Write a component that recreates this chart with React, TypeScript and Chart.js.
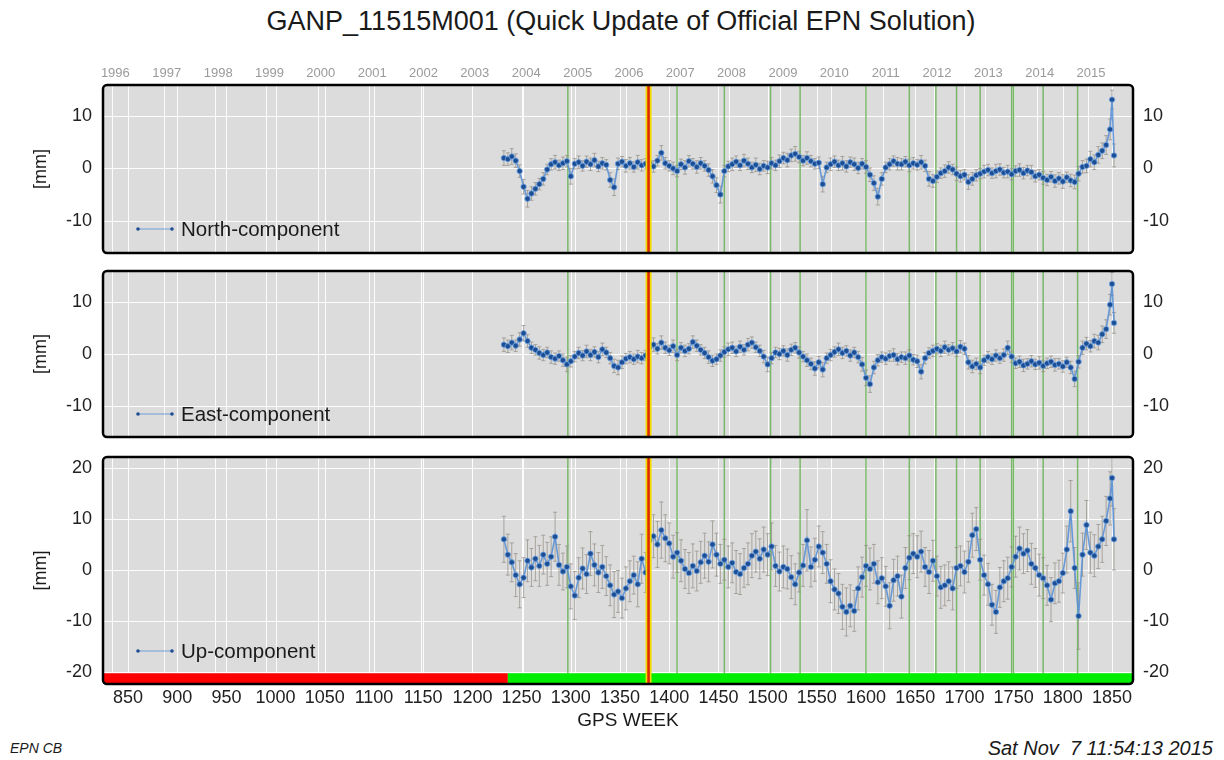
import React, { useEffect, useRef } from "react";
import { Chart, registerables } from "chart.js";
Chart.register(...registerables);

const FONT = '"Liberation Sans", Arial, Helvetica, sans-serif';

// ---- GPS weeks of the (sub-sampled) weekly solutions ----
const weeks = [
  1232, 1236, 1240, 1244, 1248, 1252, 1256, 1260, 1264, 1268,
  1272, 1276, 1280, 1284, 1288, 1292, 1296, 1300, 1304, 1308,
  1312, 1316, 1320, 1324, 1328, 1332, 1336, 1340, 1344, 1348,
  1352, 1356, 1360, 1364, 1368, 1372, 1376, 1380, 1384, 1388,
  1392, 1396, 1400, 1404, 1408, 1412, 1416, 1420, 1424, 1428,
  1432, 1436, 1440, 1444, 1448, 1452, 1456, 1460, 1464, 1468,
  1472, 1476, 1480, 1484, 1488, 1492, 1496, 1500, 1504, 1508,
  1512, 1516, 1520, 1524, 1528, 1532, 1536, 1540, 1544, 1548,
  1552, 1556, 1560, 1564, 1568, 1572, 1576, 1580, 1584, 1588,
  1592, 1596, 1600, 1604, 1608, 1612, 1616, 1620, 1624, 1628,
  1632, 1636, 1640, 1644, 1648, 1652, 1656, 1660, 1664, 1668,
  1672, 1676, 1680, 1684, 1688, 1692, 1696, 1700, 1704, 1708,
  1712, 1716, 1720, 1724, 1728, 1732, 1736, 1740, 1744, 1748,
  1752, 1756, 1760, 1764, 1768, 1772, 1776, 1780, 1784, 1788,
  1792, 1796, 1800, 1804, 1808, 1812, 1816, 1820, 1824, 1828,
  1832, 1836, 1840, 1844, 1848, 1850, 1852,
];

// ---- North component [mm] ----
const northValues = [
  2.0, 1.8, 2.3, 1.5, -0.5, -3.5, -5.8, -4.8, -3.9, -3.0,
  -2.0, -0.2, 0.8, 1.2, 0.6, 1.0, 1.4, -1.5, 0.9, 1.2,
  0.5, 1.3, 0.8, 1.6, 0.4, 1.0, 0.7, -2.2, -3.6, 0.9,
  1.3, 0.5, 1.0, 0.3, 1.2, 0.6, 0.9, 1.1, 0.4, 1.5,
  3.0, 1.0, 0.5, 0.0, -0.5, 0.8, 0.2, 1.4, 0.9, 0.3,
  1.0, 0.5, -0.3, -1.5, -3.2, -5.0, -0.5, 0.4, 0.8, 1.3,
  0.6, 1.5, 0.9, 0.2, 0.7, -0.1, 0.5, 0.2, 1.0, 0.6,
  1.4, 2.0, 1.6, 2.5, 2.8, 2.2, 1.5, 2.0, 1.4, 0.9,
  1.1, -3.0, 0.2, 0.8, 1.3, 0.6, 1.0, 0.4, 1.2, 0.8,
  0.1, 0.9, 0.3, -1.2, -2.8, -5.4, -2.0, 0.2, 0.8, 1.4,
  0.9, 0.8, 1.3, 0.6, 1.0, 0.7, 1.2, 0.5, -2.0, -2.4,
  -1.6, -0.9, -0.5, 0.2, -0.2, -1.0, -1.5, -1.2, -2.6, -2.0,
  -1.3, -1.0, -0.6, -0.3, -0.9, -0.5, -0.2, -0.8, -0.6, -1.1,
  -0.5, -0.3, -0.9, -0.4, -0.7, -1.5, -1.2, -1.8, -2.2, -1.6,
  -2.4, -1.9, -2.5, -1.7, -2.3, -2.6, -1.0, 0.3, 0.5, 1.8,
  1.2, 2.6, 3.4, 4.5, 7.5, 13.2, 2.5,
];
const northSigma = [
  1.4, 1.2, 1.5, 1.3, 1.2, 1.4, 1.6, 1.3, 1.2, 1.1,
  1.2, 1.0, 1.1, 1.3, 1.0, 1.2, 1.1, 1.5, 1.0, 1.2,
  1.0, 1.1, 1.2, 1.3, 1.0, 1.1, 1.0, 1.4, 1.6, 1.1,
  1.0, 1.2, 1.1, 1.0, 1.3, 1.1, 1.0, 1.2, 1.1, 1.0,
  1.4, 1.1, 1.0, 1.2, 1.1, 1.0, 1.3, 1.1, 1.0, 1.2,
  1.1, 1.0, 1.2, 1.3, 1.4, 1.6, 1.1, 1.0, 1.2, 1.1,
  1.0, 1.2, 1.1, 1.0, 1.3, 1.1, 1.0, 1.2, 1.1, 1.0,
  1.2, 1.1, 1.3, 1.2, 1.4, 1.1, 1.0, 1.2, 1.1, 1.0,
  1.1, 1.5, 1.0, 1.2, 1.1, 1.0, 1.3, 1.1, 1.0, 1.2,
  1.1, 1.0, 1.2, 1.3, 1.4, 1.6, 1.2, 1.0, 1.1, 1.0,
  1.2, 1.1, 1.0, 1.2, 1.1, 1.0, 1.3, 1.1, 1.4, 1.2,
  1.1, 1.0, 1.2, 1.1, 1.0, 1.3, 1.1, 1.0, 1.4, 1.2,
  1.1, 1.0, 1.2, 1.1, 1.0, 1.3, 1.1, 1.0, 1.2, 1.1,
  1.0, 1.2, 1.1, 1.0, 1.3, 1.1, 1.0, 1.2, 1.1, 1.0,
  1.2, 1.1, 1.3, 1.0, 1.2, 1.3, 1.4, 1.2, 1.3, 1.5,
  1.4, 1.6, 1.5, 1.8, 2.0, 1.8, 2.2,
];

// ---- East component [mm] ----
const eastValues = [
  1.8, 1.5, 2.2, 1.6, 2.8, 4.0, 2.5, 1.2, 0.8, 0.2,
  -0.2, 0.3, -0.6, -0.9, -0.4, -1.2, -2.0, -1.4, -0.5, 0.2,
  -0.3, 0.5, -0.2, 0.4, -0.6, 0.9, 0.3, -0.8, -2.3, -2.6,
  -1.6, -0.9, -0.6, -1.0, -0.5, -0.8, -0.3, 1.3, 1.8, 1.0,
  2.2, 1.2, 0.7, 1.5, -0.2, 1.2, 0.6, 1.0, 2.3, 1.6,
  0.8, 0.2, -0.6, -1.3, -1.0, -0.3, 0.4, 0.9, 1.2, 0.5,
  1.4, 0.8, 1.8, 2.2, 1.3, 0.6, -0.5, -2.0, -0.8, 0.3,
  0.0, 0.6, -0.2, 0.8, 1.2, 0.3, -0.5, -1.2, -1.9, -2.8,
  -1.6, -3.0, -0.8, -0.2, 0.4, 0.9, 0.2, 0.6, -0.3, 0.3,
  -0.6, -2.0, -4.6, -5.8, -2.6, -1.2, -0.6, -0.9, -0.4, -0.2,
  -1.0, -0.6, -0.8, -0.3, -1.1, -1.4, -3.4, -0.8, 0.2, 0.6,
  1.0, 0.6, 1.3, 0.8, 1.1, 0.5, 1.4, 1.0, -1.6, -2.4,
  -1.9, -2.6, -1.2, -0.6, -1.0, -0.3, -0.8, -0.2, 1.2, -0.5,
  -1.8, -1.5, -2.2, -1.9, -1.4, -2.0, -1.7, -2.3, -1.8, -1.5,
  -2.1, -1.9, -2.4, -1.6, -2.6, -4.8, -1.5, 1.2, 2.0, 1.5,
  2.5, 2.2, 3.8, 4.8, 9.5, 13.5, 6.0,
];
const eastSigma = [
  1.3, 1.2, 1.4, 1.1, 1.3, 1.5, 1.2, 1.1, 1.0, 1.2,
  1.1, 1.0, 1.2, 1.1, 1.0, 1.2, 1.4, 1.1, 1.0, 1.1,
  1.0, 1.2, 1.1, 1.0, 1.1, 1.2, 1.0, 1.1, 1.3, 1.4,
  1.2, 1.0, 1.1, 1.0, 1.2, 1.1, 1.0, 1.2, 1.3, 1.0,
  1.3, 1.1, 1.0, 1.2, 1.1, 1.0, 1.1, 1.0, 1.2, 1.1,
  1.0, 1.1, 1.2, 1.1, 1.0, 1.1, 1.0, 1.2, 1.1, 1.0,
  1.1, 1.0, 1.2, 1.1, 1.0, 1.1, 1.2, 1.4, 1.1, 1.0,
  1.1, 1.0, 1.2, 1.1, 1.0, 1.1, 1.0, 1.2, 1.1, 1.3,
  1.1, 1.4, 1.0, 1.1, 1.0, 1.2, 1.1, 1.0, 1.1, 1.0,
  1.1, 1.3, 1.5, 1.6, 1.2, 1.1, 1.0, 1.1, 1.0, 1.2,
  1.1, 1.0, 1.2, 1.1, 1.0, 1.2, 1.4, 1.1, 1.0, 1.1,
  1.0, 1.1, 1.2, 1.0, 1.1, 1.0, 1.2, 1.1, 1.3, 1.2,
  1.1, 1.2, 1.0, 1.1, 1.0, 1.1, 1.0, 1.2, 1.3, 1.1,
  1.0, 1.1, 1.2, 1.0, 1.1, 1.0, 1.2, 1.1, 1.0, 1.1,
  1.2, 1.0, 1.1, 1.0, 1.2, 1.5, 1.2, 1.3, 1.2, 1.1,
  1.3, 1.4, 1.6, 1.8, 2.0, 2.2, 2.0,
];

// ---- Up component [mm] ----
const upValues = [
  6.0, 3.0, 1.5, -1.0, -2.8, -1.5, 1.8, 0.5, 2.2, 0.8,
  3.0, 1.2, 2.6, 6.5, 1.0, -0.3, 0.6, -3.2, -5.0, -1.5,
  0.3, -0.8, 3.2, 1.0, -0.5, 0.6, -1.2, -3.0, -4.8, -4.2,
  -5.5, -3.6, -2.2, -1.0, -2.8, 2.2, -0.5, 5.8, 6.6, 5.0,
  7.8, 6.2, 5.2, 2.6, 3.4, 1.8, 0.2, -0.6, 0.8, -0.2,
  1.5, 2.8, 1.6, 5.0, 3.0, 1.2, 2.0, 0.6, 1.4, -0.4,
  -0.8, 0.4, 1.2, 2.8, 3.6, 2.2, 4.0, 3.0, 4.6, 0.8,
  -0.3, 0.6, 0.2, -1.4, -2.8, -0.5, 0.9, 5.8, 0.6, 2.0,
  4.6, 3.4, 1.2, -2.2, -3.8, -4.6, -7.2, -8.2, -7.0, -8.0,
  -3.6, -1.4, 0.8, 0.2, 1.2, -2.4, -1.6, -3.2, -7.0, -2.0,
  -1.2, -5.2, 0.4, 2.4, 3.2, 2.6, 3.6, 0.6, -0.4, 1.8,
  -1.2, -3.4, -3.0, -2.2, -3.6, 0.4, 0.8, -0.4, 1.6, 6.8,
  8.0, 2.0, -1.0, -2.8, -6.8, -8.2, -3.4, -2.2, -1.6, 0.6,
  2.6, 4.2, 3.2, 3.8, 1.2, 0.4, -1.0, -1.6, -3.0, -5.8,
  -2.6, -2.2, -0.6, 4.0, 11.5, 0.4, -9.0, 3.0, 8.8, 3.4,
  2.8, 4.6, 6.0, 9.6, 14.0, 18.0, 6.0,
];
const upSigma = [
  4.5, 4.0, 3.8, 4.2, 4.6, 3.9, 4.1, 3.7, 4.3, 4.0,
  3.8, 4.2, 3.9, 4.8, 4.0, 3.6, 4.1, 4.4, 4.7, 3.9,
  4.0, 3.8, 4.3, 4.1, 3.9, 4.2, 3.8, 4.0, 4.5, 4.1,
  3.9, 4.2, 4.0, 3.7, 4.4, 4.8, 3.9, 4.0, 4.2, 4.5,
  5.5, 4.6, 4.0, 4.2, 3.9, 4.1, 3.8, 4.0, 4.3, 3.9,
  4.1, 4.4, 3.9, 4.6, 4.2, 3.8, 4.0, 4.1, 3.9, 4.2,
  4.0, 3.8, 4.1, 4.3, 4.0, 3.9, 4.4, 4.1, 4.6, 4.0,
  3.8, 4.1, 3.9, 4.2, 4.0, 3.8, 4.1, 6.0, 3.9, 4.2,
  4.0, 4.1, 3.8, 4.2, 4.0, 3.9, 4.4, 4.7, 4.1, 4.0,
  4.2, 3.9, 4.0, 4.1, 3.8, 4.2, 4.0, 3.9, 4.5, 4.1,
  3.9, 4.2, 4.0, 4.3, 3.9, 4.1, 4.0, 3.8, 4.2, 4.0,
  3.9, 4.1, 4.0, 3.8, 4.2, 4.0, 3.9, 4.1, 4.0, 4.3,
  4.2, 4.0, 3.9, 4.1, 4.0, 4.2, 3.9, 4.0, 4.1, 3.9,
  4.0, 4.2, 3.9, 4.1, 4.0, 3.8, 4.1, 4.0, 3.9, 4.3,
  4.0, 4.1, 3.9, 4.6, 6.0, 4.0, 6.5, 4.2, 4.8, 4.0,
  4.1, 4.3, 4.5, 4.8, 5.2, 5.5, 6.0,
];

// ---- axes / annotations ----
const weekTicks = [850, 900, 950, 1000, 1050, 1100, 1150, 1200, 1250, 1300, 1350, 1400, 1450, 1500, 1550, 1600, 1650, 1700, 1750, 1800, 1850];
const yearLabels = ["1996", "1997", "1998", "1999", "2000", "2001", "2002", "2003", "2004", "2005", "2006", "2007", "2008", "2009", "2010", "2011", "2012", "2013", "2014", "2015"];
const yearStartWeeks = [834.1, 886.4, 938.6, 990.7, 1042.9, 1095.1, 1147.3, 1199.4, 1251.6, 1303.9, 1356.0, 1408.1, 1460.3, 1512.6, 1564.7, 1616.9, 1669.0, 1721.3, 1773.4, 1825.6];
const equipmentChangeWeeks = [1297, 1408, 1456, 1503, 1533, 1600, 1644, 1671, 1692, 1716, 1748, 1750, 1780, 1815];
const referenceFrameChangeWeek = 1379;
const statusChangeWeek = 1236;
const horizTicks = [-10, 0, 10];
const upTicks = [-20, -10, 0, 10, 20];

const X_MIN = 824.6;
const X_MAX = 1871.3;

type Spec = {
  top: number; height: number; padTop: number; padBottom: number;
  values: number[]; sigmas: number[]; yMin: number; yMax: number; yTicks: number[];
  label: string; legendOffset: number; showYears: boolean; showWeeks: boolean; statusBar: boolean;
};

const panels: Spec[] = [
  { top: 60, height: 198, padTop: 25, padBottom: 2, values: northValues, sigmas: northSigma, yMin: -16.2, yMax: 16.0, yTicks: horizTicks, label: "North-component", legendOffset: 24, showYears: true, showWeeks: false, statusBar: false },
  { top: 266, height: 176, padTop: 4, padBottom: 2, values: eastValues, sigmas: eastSigma, yMin: -16.0, yMax: 16.0, yTicks: horizTicks, label: "East-component", legendOffset: 23, showYears: false, showWeeks: false, statusBar: false },
  { top: 452, height: 262, padTop: 4, padBottom: 0, values: upValues, sigmas: upSigma, yMin: -22.3, yMax: 22.1, yTicks: upTicks, label: "Up-component", legendOffset: 33, showYears: false, showWeeks: true, statusBar: true },
];

const zeroPad = (s: any) => { s.paddingTop = 0; s.paddingBottom = 0; s.paddingLeft = 0; s.paddingRight = 0; };

function makePlugin(spec: Spec) {
  return {
    id: "panelDecor",
    beforeDatasetsDraw(chart: any) {
      const { ctx, chartArea: a, scales } = chart;
      const xs = scales.x, ys = scales.y;
      ctx.save();
      ctx.fillStyle = "#dcdcdc";
      ctx.fillRect(a.left, a.top, a.right - a.left, a.bottom - a.top);
      ctx.beginPath();
      ctx.rect(a.left, a.top, a.right - a.left, a.bottom - a.top);
      ctx.clip();
      const vline = (x: number) => { ctx.beginPath(); ctx.moveTo(x, a.top); ctx.lineTo(x, a.bottom); ctx.stroke(); };
      ctx.strokeStyle = "rgba(255,255,255,0.9)";
      ctx.lineWidth = 1;
      weekTicks.forEach((w) => vline(Math.round(xs.getPixelForValue(w)) + 0.5));
      yearStartWeeks.forEach((w) => vline(Math.round(xs.getPixelForValue(w)) + 0.5));
      spec.yTicks.forEach((v) => {
        const y = Math.round(ys.getPixelForValue(v)) + 0.5;
        ctx.beginPath(); ctx.moveTo(a.left, y); ctx.lineTo(a.right, y); ctx.stroke();
      });
      ctx.strokeStyle = "rgba(95,175,75,0.8)";
      ctx.lineWidth = 1.5;
      equipmentChangeWeeks.forEach((w) => vline(xs.getPixelForValue(w)));
      if (spec.statusBar) {
        const yTop = ys.getPixelForValue(-20.2);
        const xc = xs.getPixelForValue(statusChangeWeek);
        ctx.fillStyle = "#ff0000";
        ctx.fillRect(a.left, yTop, xc - a.left, a.bottom - yTop);
        ctx.fillStyle = "#00ee00";
        ctx.fillRect(xc, yTop, a.right - xc, a.bottom - yTop);
      }
      ctx.strokeStyle = "rgba(150,144,136,0.75)";
      ctx.lineWidth = 1;
      weeks.forEach((w, i) => {
        const x = xs.getPixelForValue(w);
        const y1 = ys.getPixelForValue(spec.values[i] - spec.sigmas[i]);
        const y2 = ys.getPixelForValue(spec.values[i] + spec.sigmas[i]);
        ctx.beginPath();
        ctx.moveTo(x, y1); ctx.lineTo(x, y2);
        ctx.moveTo(x - 2, y1); ctx.lineTo(x + 2, y1);
        ctx.moveTo(x - 2, y2); ctx.lineTo(x + 2, y2);
        ctx.stroke();
      });
      ctx.restore();
    },
    afterDatasetsDraw(chart: any) {
      const { ctx, chartArea: a, scales } = chart;
      const xs = scales.x;
      ctx.save();
      const xr = xs.getPixelForValue(referenceFrameChangeWeek);
      ctx.strokeStyle = "#f2dc00";
      ctx.lineWidth = 6;
      ctx.beginPath(); ctx.moveTo(xr, a.top); ctx.lineTo(xr, a.bottom); ctx.stroke();
      ctx.strokeStyle = "#dd2a00";
      ctx.lineWidth = 2.6;
      ctx.beginPath(); ctx.moveTo(xr, a.top); ctx.lineTo(xr, a.bottom); ctx.stroke();
      // legend
      const ly = a.bottom - spec.legendOffset;
      ctx.strokeStyle = "#6a9fd8";
      ctx.lineWidth = 1;
      ctx.beginPath(); ctx.moveTo(138, ly); ctx.lineTo(172, ly); ctx.stroke();
      ctx.fillStyle = "#1d4d92";
      [138, 172].forEach((x) => { ctx.beginPath(); ctx.arc(x, ly, 1.8, 0, Math.PI * 2); ctx.fill(); });
      ctx.fillStyle = "#1a1a1a";
      ctx.font = `20.5px ${FONT}`;
      ctx.textAlign = "left";
      ctx.textBaseline = "middle";
      ctx.fillText(spec.label, 181, ly + 1);
      // frame
      ctx.strokeStyle = "#000";
      ctx.lineWidth = 2.5;
      ctx.beginPath();
      (ctx as any).roundRect(a.left, a.top, a.right - a.left, a.bottom - a.top, 4);
      ctx.stroke();
      // y label
      ctx.save();
      ctx.translate(41, (a.top + a.bottom) / 2);
      ctx.rotate(-Math.PI / 2);
      ctx.fillStyle = "#1a1a1a";
      ctx.font = `18px ${FONT}`;
      ctx.textAlign = "center";
      ctx.textBaseline = "middle";
      ctx.fillText("[mm]", 0, 0);
      ctx.restore();
      if (spec.showYears) {
        ctx.fillStyle = "#9a9a9a";
        ctx.font = `13px ${FONT}`;
        ctx.textAlign = "center";
        ctx.textBaseline = "middle";
        yearLabels.forEach((t, i) => ctx.fillText(t, xs.getPixelForValue(yearStartWeeks[i]) + 3, a.top - 12));
      }
      ctx.restore();
    },
  };
}

function Panel({ spec }: { spec: Spec }) {
  const ref = useRef<HTMLCanvasElement | null>(null);
  useEffect(() => {
    const tickFont = { family: FONT, size: 18 };
    const chart = new Chart(ref.current as HTMLCanvasElement, {
      type: "scatter",
      data: {
        datasets: [
          {
            data: weeks.map((w, i) => ({ x: w, y: spec.values[i] })),
            showLine: true,
            borderColor: "rgba(90,145,215,0.9)",
            borderWidth: 1.6,
            pointRadius: 2.7,
            pointBackgroundColor: "#1d4d92",
            pointBorderColor: "rgba(110,165,230,0.8)",
            pointBorderWidth: 1,
          },
        ],
      },
      options: {
        animation: false,
        responsive: false,
        maintainAspectRatio: false,
        devicePixelRatio: 1,
        layout: { padding: { top: spec.padTop, bottom: spec.padBottom, left: 0, right: 0 } },
        plugins: { legend: { display: false }, tooltip: { enabled: false } },
        scales: {
          x: {
            type: "linear",
            min: X_MIN,
            max: X_MAX,
            display: spec.showWeeks,
            grid: { display: false, drawTicks: false },
            border: { display: false },
            afterBuildTicks: (s: any) => { s.ticks = weekTicks.map((v) => ({ value: v })); },
            ticks: { autoSkip: false, maxRotation: 0, minRotation: 0, padding: 3, color: "#222", font: tickFont, callback: (v: any) => String(v) },
            afterFit: (s: any) => { s.height = spec.showWeeks ? 30 : 0; zeroPad(s); },
          },
          y: {
            type: "linear",
            position: "left",
            min: spec.yMin,
            max: spec.yMax,
            grid: { display: false, drawTicks: false },
            border: { display: false },
            afterBuildTicks: (s: any) => { s.ticks = spec.yTicks.map((v) => ({ value: v })); },
            ticks: { padding: 11, color: "#222", font: tickFont, callback: (v: any) => String(v) },
            afterFit: (s: any) => { s.width = 103; zeroPad(s); },
          },
          y2: {
            type: "linear",
            position: "right",
            min: spec.yMin,
            max: spec.yMax,
            grid: { display: false, drawTicks: false },
            border: { display: false },
            afterBuildTicks: (s: any) => { s.ticks = spec.yTicks.map((v) => ({ value: v })); },
            ticks: { padding: 10, color: "#222", font: tickFont, callback: (v: any) => String(v) },
            afterFit: (s: any) => { s.width = 91; zeroPad(s); },
          },
        },
      } as any,
      plugins: [makePlugin(spec)],
    });
    return () => chart.destroy();
  }, [spec]);
  return (
    <canvas
      ref={ref}
      width={1224}
      height={spec.height}
      style={{ position: "absolute", left: 0, top: spec.top, width: 1224, height: spec.height }}
    />
  );
}

export default function App() {
  return (
    <div style={{ position: "absolute", left: 0, top: 0, width: 1224, height: 760, background: "#fff", fontFamily: FONT, color: "#1a1a1a", overflow: "hidden" }}>
      <div style={{ position: "absolute", left: 621, top: 6, transform: "translateX(-50%)", fontSize: 27, lineHeight: "30px", whiteSpace: "nowrap" }}>
        GANP_11515M001 (Quick Update of Official EPN Solution)
      </div>
      {panels.map((p, i) => (
        <Panel key={i} spec={p} />
      ))}
      <div style={{ position: "absolute", left: 628, top: 709, transform: "translateX(-50%)", fontSize: 19, lineHeight: "22px", whiteSpace: "nowrap" }}>
        GPS WEEK
      </div>
      <div style={{ position: "absolute", left: 10, top: 739, fontSize: 14, lineHeight: "18px", fontStyle: "italic", whiteSpace: "nowrap" }}>
        EPN CB
      </div>
      <div style={{ position: "absolute", right: 11, top: 738, fontSize: 20, lineHeight: "20px", fontStyle: "italic", whiteSpace: "pre" }}>
        {"Sat Nov  7 11:54:13 2015"}
      </div>
    </div>
  );
}
